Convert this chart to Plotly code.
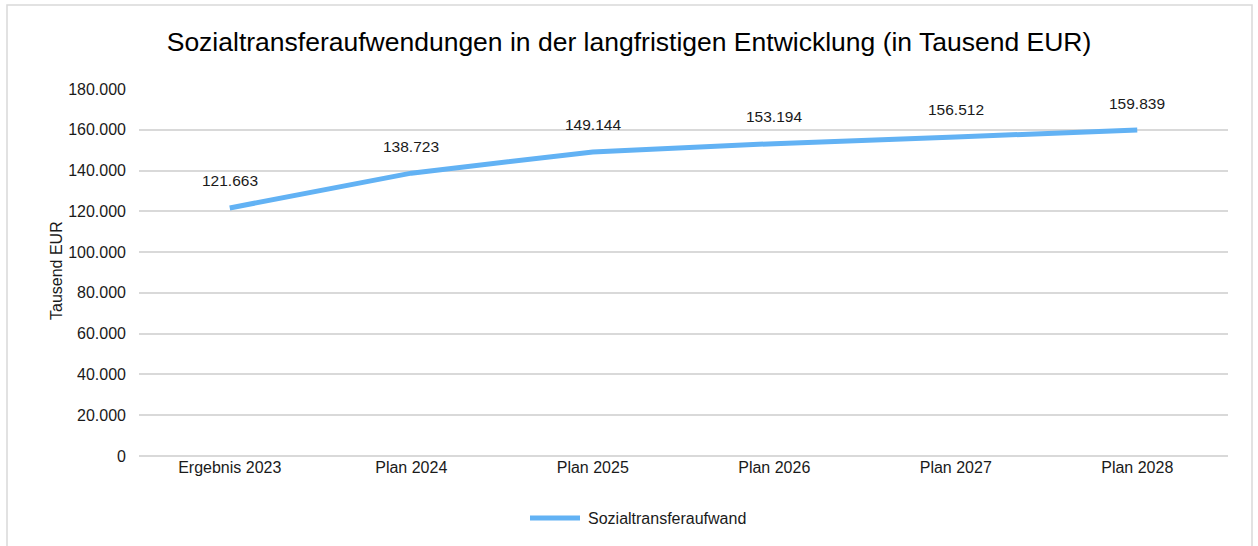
import plotly.graph_objects as go

categories = ["Ergebnis 2023", "Plan 2024", "Plan 2025", "Plan 2026", "Plan 2027", "Plan 2028"]
values = [121663, 138723, 149144, 153194, 156512, 159839]
series_name = "Sozialtransferaufwand"
title_text = "Sozialtransferaufwendungen in der langfristigen Entwicklung (in Tausend EUR)"
y_title = "Tausend EUR"
y_ticks = [0, 20000, 40000, 60000, 80000, 100000, 120000, 140000, 160000, 180000]

W, H = 1258, 546
L, R, T, B = 139, 30, 89, 90
pw, ph = W - L - R, H - T - B
LINE_COLOR = "#62B2F4"
FONT = "Liberation Sans, Arial, sans-serif"


def px_x(px):
    return (px - L) / pw


def px_y(py):
    return (H - B - py) / ph


fig = go.Figure()
fig.add_trace(go.Scatter(
    x=categories, y=values, mode="lines", name=series_name,
    line=dict(color=LINE_COLOR, width=5),
    hoverinfo="skip", showlegend=False,
))
for c, v in zip(categories, values):
    fig.add_annotation(x=c, y=v, text=f"{v:,}".replace(",", "."), showarrow=False,
                       yshift=27, font=dict(size=15.5, color="#1a1a1a"))

# chart frame
fig.add_shape(type="rect", xref="paper", yref="paper",
              x0=px_x(7), x1=px_x(1252), y0=px_y(560), y1=px_y(5),
              line=dict(color="#D9D9D9", width=1.5), fillcolor="rgba(0,0,0,0)", layer="below")

# legend (line sample + label)
fig.add_shape(type="line", xref="paper", yref="paper",
              x0=px_x(530), x1=px_x(580), y0=px_y(518), y1=px_y(518),
              line=dict(color=LINE_COLOR, width=5))
fig.add_annotation(xref="paper", yref="paper", x=px_x(586), y=px_y(518),
                   xanchor="left", yanchor="middle", text=series_name, showarrow=False,
                   font=dict(size=16, color="#1a1a1a"))

# y-axis title
fig.add_annotation(xref="paper", yref="paper", x=px_x(56), y=px_y(271),
                   xanchor="center", yanchor="middle", text=y_title, textangle=-90,
                   showarrow=False, font=dict(size=16, color="#1a1a1a"))

fig.update_layout(
    width=W, height=H,
    margin=dict(l=L, r=R, t=T, b=B),
    paper_bgcolor="white", plot_bgcolor="white",
    separators=",.",
    font=dict(family=FONT, size=16, color="#1a1a1a"),
    title=dict(text=title_text, x=0.5, xanchor="center", y=1 - 42 / H, yanchor="middle",
               font=dict(size=26.5, color="#000000")),
    showlegend=False,
    xaxis=dict(type="category", showgrid=False, showline=False, ticks="",
               tickfont=dict(size=16), range=[-0.5, len(categories) - 0.5]),
    yaxis=dict(range=[0, 180000], tickvals=y_ticks, tickformat=",d",
               showgrid=True, gridcolor="#D9D9D9", gridwidth=1.5,
               zeroline=True, zerolinecolor="#D9D9D9", zerolinewidth=1.5,
               showline=False, ticks="", ticklen=0, ticklabelstandoff=12,
               tickfont=dict(size=16)),
)

fig.write_html("out.html")
